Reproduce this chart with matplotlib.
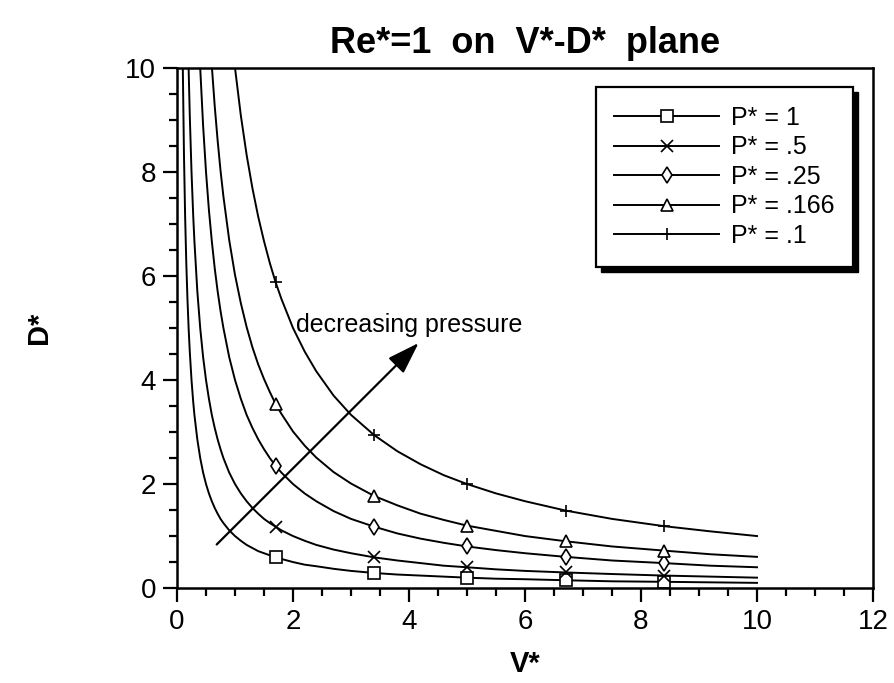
import matplotlib.pyplot as plt
from matplotlib.ticker import MultipleLocator
from matplotlib.patches import Rectangle

plt.rcParams["font.family"] = ["Liberation Sans", "DejaVu Sans"]

# V* sample points along the curves, D*
v_line = [0.1, 0.12, 0.14, 0.16, 0.18, 0.2, 0.22, 0.25, 0.28, 0.3, 0.35, 0.4,
          0.45, 0.5, 0.55, 0.6, 0.65, 0.7, 0.75, 0.8, 0.9, 1.0, 1.1, 1.2, 1.3,
          1.4, 1.5, 1.6, 1.7, 1.8, 2.0, 2.2, 2.4, 2.7, 3.0, 3.4, 3.8, 4.2, 4.6,
          5.0, 5.5, 6.0, 6.7, 7.5, 8.4, 9.2, 10.0]
d_p1 = [10.0, 8.33, 7.14, 6.25, 5.56, 5.0, 4.55, 4.0, 3.57, 3.33, 2.86, 2.5,
        2.22, 2.0, 1.82, 1.67, 1.54, 1.43, 1.33, 1.25, 1.11, 1.0, 0.91, 0.83, 0.77,
        0.71, 0.67, 0.63, 0.59, 0.56, 0.5, 0.45, 0.42, 0.37, 0.33, 0.29, 0.26, 0.24, 0.22,
        0.2, 0.18, 0.17, 0.15, 0.13, 0.12, 0.11, 0.1]
d_p05 = [20.0, 16.7, 14.3, 12.5, 11.1, 10.0, 9.09, 8.0, 7.14, 6.67, 5.71, 5.0,
         4.44, 4.0, 3.64, 3.33, 3.08, 2.86, 2.67, 2.5, 2.22, 2.0, 1.82, 1.67, 1.54,
         1.43, 1.33, 1.25, 1.18, 1.11, 1.0, 0.91, 0.83, 0.74, 0.67, 0.59, 0.53, 0.48, 0.43,
         0.4, 0.36, 0.33, 0.3, 0.27, 0.24, 0.22, 0.2]
d_p025 = [40.0, 33.3, 28.6, 25.0, 22.2, 20.0, 18.2, 16.0, 14.3, 13.3, 11.4, 10.0,
          8.89, 8.0, 7.27, 6.67, 6.15, 5.71, 5.33, 5.0, 4.44, 4.0, 3.64, 3.33, 3.08,
          2.86, 2.67, 2.5, 2.35, 2.22, 2.0, 1.82, 1.67, 1.48, 1.33, 1.18, 1.05, 0.95, 0.87,
          0.8, 0.73, 0.67, 0.6, 0.53, 0.48, 0.43, 0.4]
d_p0166 = [60.2, 50.2, 43.0, 37.6, 33.5, 30.1, 27.4, 24.1, 21.5, 20.1, 17.2, 15.1,
           13.4, 12.0, 10.95, 10.04, 9.27, 8.61, 8.03, 7.53, 6.69, 6.02, 5.48, 5.02, 4.63,
           4.3, 4.02, 3.77, 3.54, 3.35, 3.01, 2.74, 2.51, 2.23, 2.01, 1.77, 1.59, 1.43, 1.31,
           1.2, 1.1, 1.0, 0.9, 0.8, 0.72, 0.65, 0.6]
d_p01 = [100.0, 83.3, 71.4, 62.5, 55.6, 50.0, 45.5, 40.0, 35.7, 33.3, 28.6, 25.0,
         22.2, 20.0, 18.2, 16.7, 15.4, 14.3, 13.3, 12.5, 11.1, 10.0, 9.09, 8.33, 7.69,
         7.14, 6.67, 6.25, 5.88, 5.56, 5.0, 4.55, 4.17, 3.7, 3.33, 2.94, 2.63, 2.38, 2.17,
         2.0, 1.82, 1.67, 1.49, 1.33, 1.19, 1.09, 1.0]

# marker positions
v_mark = [1.7, 3.4, 5.0, 6.7, 8.4]
m_p1 = [0.59, 0.29, 0.2, 0.15, 0.12]
m_p05 = [1.18, 0.59, 0.4, 0.3, 0.24]
m_p025 = [2.35, 1.18, 0.8, 0.6, 0.48]
m_p0166 = [3.54, 1.77, 1.2, 0.9, 0.72]
m_p01 = [5.88, 2.94, 2.0, 1.49, 1.19]

labels = ["P* = 1", "P* = .5", "P* = .25", "P* = .166", "P* = .1"]
markers = ["s", "x", "d", "^", "+"]

fig = plt.figure(figsize=(8.94, 6.83), dpi=100)
ax = fig.add_axes([0.198, 0.139, 0.7785, 0.7615])

curves = [d_p1, d_p05, d_p025, d_p0166, d_p01]
marks = [m_p1, m_p05, m_p025, m_p0166, m_p01]
handles = []
for d, m, lab, mk in zip(curves, marks, labels, markers):
    ax.plot(v_line, d, color="black", lw=1.4)
    ax.plot(v_mark, m, linestyle="none", marker=mk, markersize=8.5,
            markerfacecolor="white", markeredgecolor="black", markeredgewidth=1.2)
    h, = ax.plot([], [], color="black", lw=1.4, marker=mk, markersize=8.5,
                 markerfacecolor="white", markeredgecolor="black", markeredgewidth=1.2,
                 label=lab)
    handles.append(h)

ax.set_xlim(0, 12)
ax.set_ylim(0, 10)
ax.xaxis.set_major_locator(MultipleLocator(2))
ax.xaxis.set_minor_locator(MultipleLocator(0.5))
ax.yaxis.set_major_locator(MultipleLocator(2))
ax.yaxis.set_minor_locator(MultipleLocator(0.5))
ax.tick_params(which="both", direction="out", width=1.6, labelsize=20, color="black")
ax.tick_params(which="major", length=10, pad=5)
ax.tick_params(which="minor", length=6)
for s in ax.spines.values():
    s.set_linewidth(1.8)

ax.set_xlabel("V*", fontsize=21, fontweight="bold", labelpad=11)
ax.set_ylabel("D*", fontsize=21, fontweight="bold", labelpad=52)
ax.set_title("Re*=1  on  V*-D*  plane", fontsize=26, fontweight="bold", pad=11)

# arrow showing the pressure trend
ax.annotate("", xy=(4.2, 4.75), xytext=(0.65, 0.8),
            arrowprops=dict(arrowstyle="-|>,head_length=0.9,head_width=0.3",
                            color="black", lw=1.6, mutation_scale=22))
ax.text(2.05, 5.05, "decreasing pressure", fontsize=18, va="center", ha="left")

leg = ax.legend(handles=handles, loc="upper right", bbox_to_anchor=(0.971, 0.963),
                borderaxespad=0, fontsize=18, handlelength=4.2, handletextpad=0.45,
                labelspacing=0.22, fancybox=False, framealpha=1, borderpad=0.75)
leg.get_frame().set_edgecolor("black")
leg.get_frame().set_linewidth(1.6)

# solid drop shadow behind the legend box
fig.canvas.draw()
bb = leg.get_window_extent()
ax.add_patch(Rectangle((bb.x0 + 5, bb.y0 - 5), bb.width, bb.height, transform=None,
                       facecolor="black", edgecolor="black", zorder=4.9, clip_on=False))

fig.savefig("out.png", dpi=100)
